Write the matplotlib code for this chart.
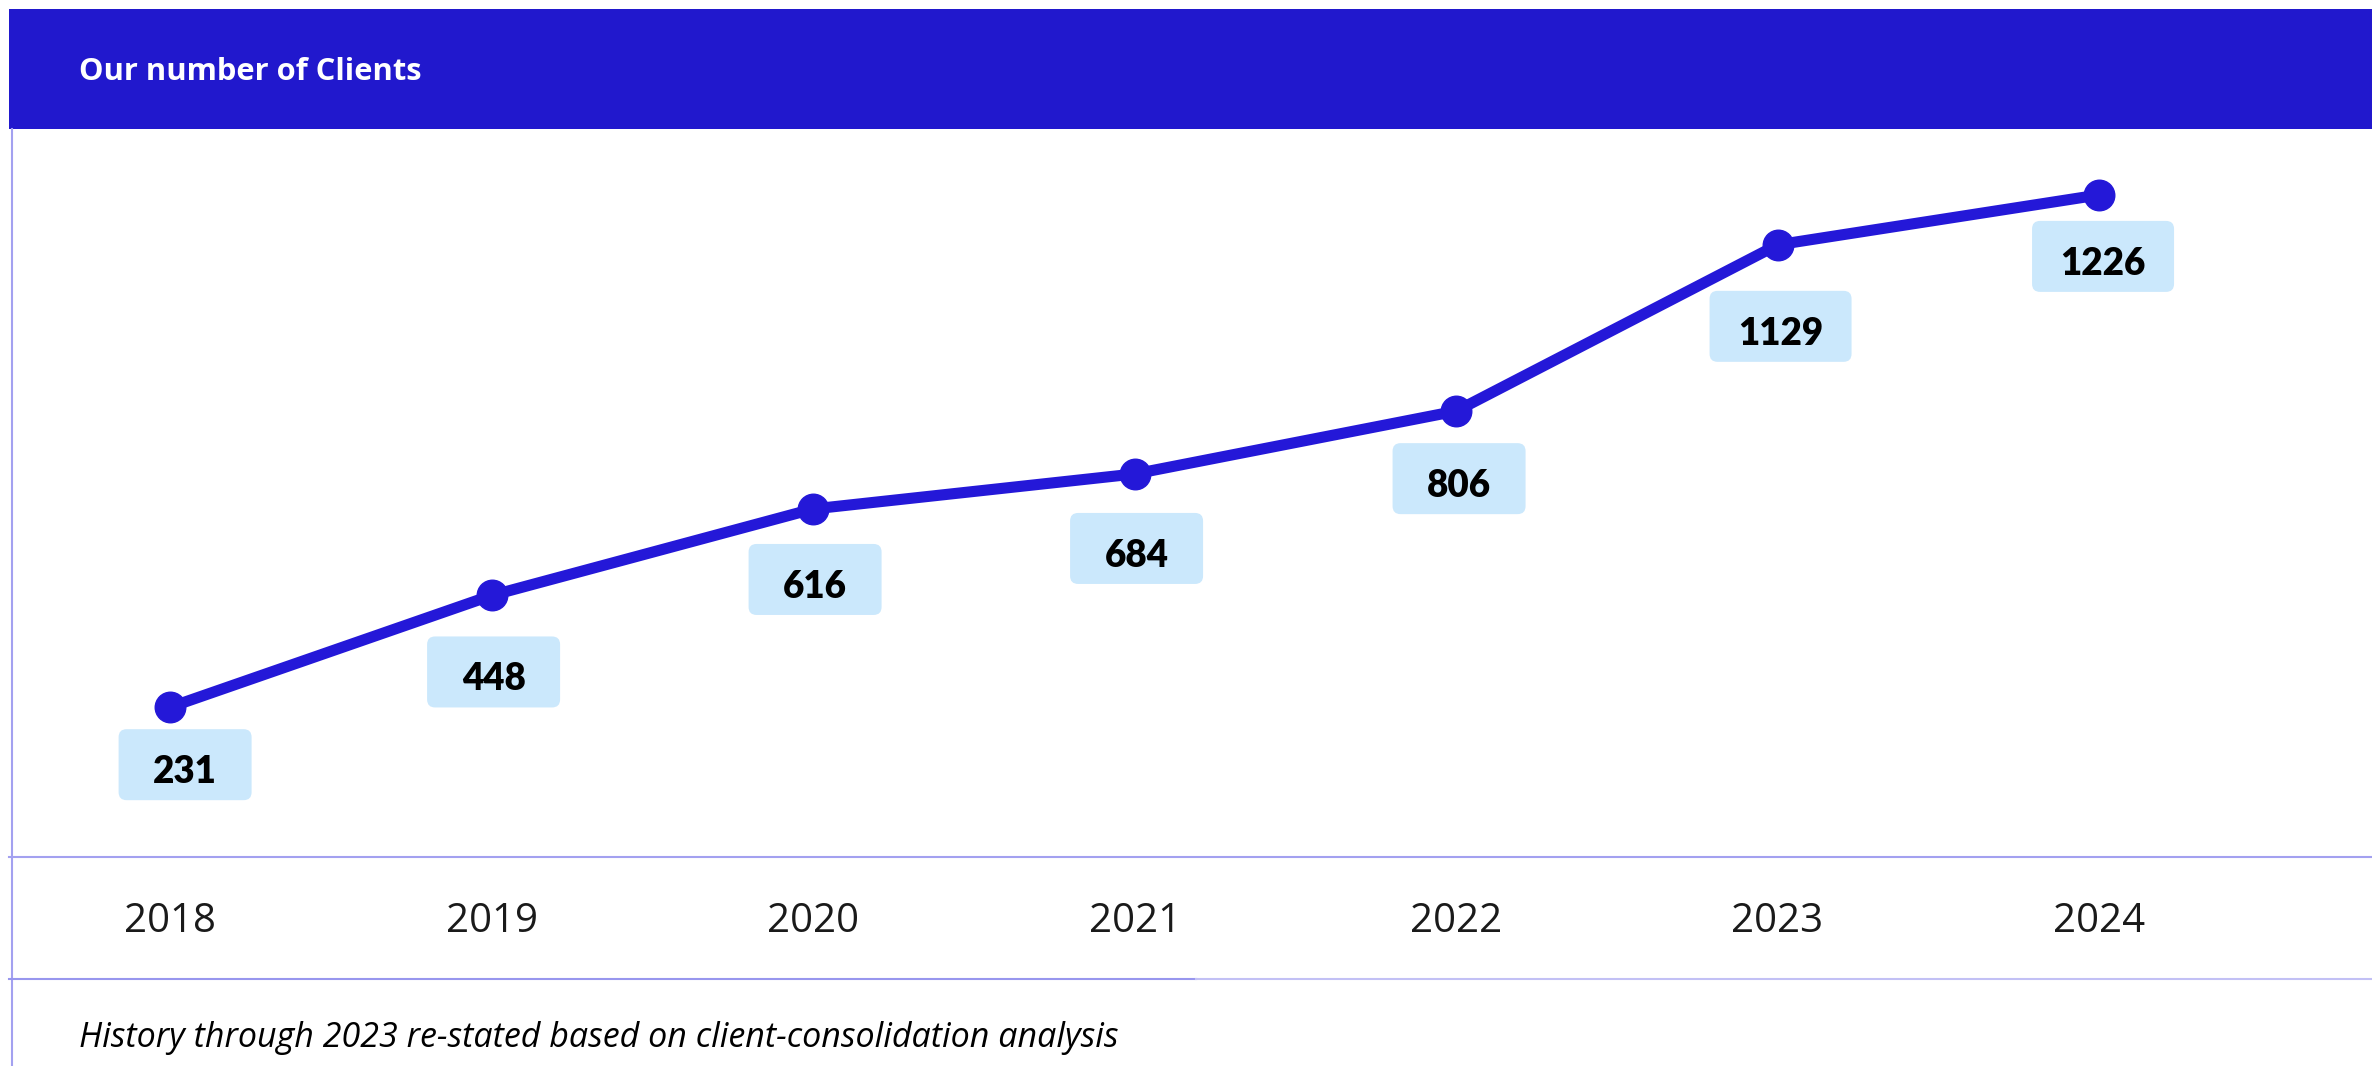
import matplotlib
matplotlib.use('Agg')
import matplotlib.pyplot as plt
import matplotlib.transforms as mtransforms
from matplotlib.patches import Rectangle, FancyBboxPatch
from matplotlib.lines import Line2D

# data
years = ['2018', '2019', '2020', '2021', '2022', '2023', '2024']
clients = [231, 448, 616, 684, 806, 1129, 1226]

# placement of each value box relative to its point (px)
label_drop = [22, 41, 35, 39, 32, 46, 26]
label_dx = [15, 2, 2, 2, 3, 3, 4]

W, H, DPI = 2372, 1066, 100
NAVY = '#2118CD'
LINE = '#2418D8'
GRID = '#A3A1F0'
BOX = '#CBE8FC'

plt.rcParams['font.family'] = ['Lato', 'DejaVu Sans']


def fx(px):
    return px / W


def fy(py):
    return 1 - py / H


fig = plt.figure(figsize=(W / DPI, H / DPI), dpi=DPI)

# header band
fig.add_artist(Rectangle((fx(9), fy(129)), 1 - fx(9), fy(9) - fy(129),
                         transform=fig.transFigure, fc=NAVY, ec='none'))
fig.text(fx(79), fy(80), 'Our number of Clients', color='white',
         fontsize=22.2, fontweight='bold', va='baseline',
         family=['Open Sans', 'DejaVu Sans'])

# frame lines
fig.add_artist(Line2D([fx(11.5), fx(11.5)], [fy(129), 0], transform=fig.transFigure,
                      color=GRID, lw=1.5))
fig.add_artist(Line2D([fx(9), 1], [fy(857), fy(857)], transform=fig.transFigure,
                      color=GRID, lw=1.5))
fig.add_artist(Line2D([fx(9), fx(1196)], [fy(979), fy(979)], transform=fig.transFigure,
                      color='#9896EE', lw=1.5))
fig.add_artist(Line2D([fx(1196), 1], [fy(979), fy(979)], transform=fig.transFigure,
                      color='#C2C0F5', lw=1.5))

ax = fig.add_axes([fx(10), fy(857), fx(2372) - fx(10), fy(129) - fy(857)])
ax.set_xlim(-0.498, 6.849)
ax.set_ylim(-60, 1354)
ax.axis('off')

x = list(range(len(years)))
ax.plot(x, clients, color=LINE, lw=8, marker='o', ms=22,
        solid_capstyle='round', solid_joinstyle='round', zorder=3)

# value boxes (sizes in inches, offset from each point)
for i, v in enumerate(clients):
    off = fig.dpi_scale_trans + mtransforms.ScaledTranslation(i, v, ax.transData)
    w = 1.33 + 0.09 * (len(str(v)) - 3)
    h = 0.71
    top = -label_drop[i] / DPI
    cx = label_dx[i] / DPI
    box = FancyBboxPatch((cx - w / 2, top - h), w, h,
                         boxstyle='round,pad=0,rounding_size=0.08',
                         transform=off, fc=BOX, ec='none', zorder=2, clip_on=False)
    ax.add_patch(box)
    ax.text(cx, top - 0.54, str(v), transform=off, ha='center', va='baseline',
            fontsize=26.5, fontweight='heavy', color='black', zorder=4)

# year labels under the axis line
for i, yr in enumerate(years):
    ax.text(i, (857 - 932) / 728, yr, transform=ax.get_xaxis_transform(),
            ha='center', va='baseline', fontsize=29, color='#1a1a1a', clip_on=False,
            family=['Open Sans', 'DejaVu Sans'])

fig.text(fx(79), fy(1047),
         'History through 2023 re-stated based on client-consolidation analysis',
         fontsize=24.5, style='italic', color='black', va='baseline',
         family=['Open Sans', 'DejaVu Sans'])

fig.savefig('out.png', dpi=DPI)
